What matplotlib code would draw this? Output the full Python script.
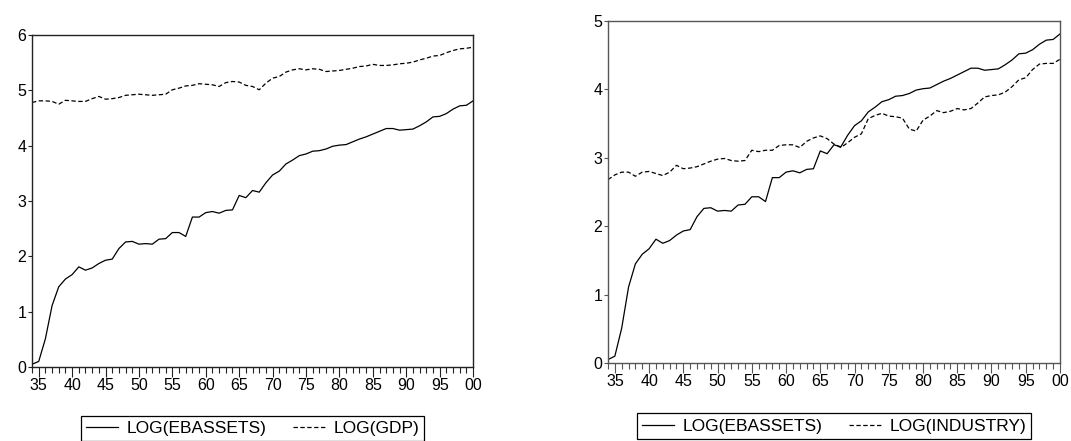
#!/usr/bin/env python3

import matplotlib
matplotlib.use("Agg")
import matplotlib.pyplot as plt
from matplotlib.ticker import FixedLocator

plt.rcParams["font.family"] = ["Liberation Sans", "DejaVu Sans"]

years = list(range(1934, 2001))

log_ebassets = [
    0.05, 0.10, 0.51, 1.11, 1.45, 1.59, 1.67, 1.81, 1.75, 1.79,
    1.87, 1.93, 1.95, 2.14, 2.26, 2.27, 2.22, 2.23, 2.22, 2.31,
    2.32, 2.43, 2.43, 2.36, 2.71, 2.71, 2.79, 2.81, 2.78, 2.83,
    2.84, 3.10, 3.06, 3.19, 3.16, 3.33, 3.47, 3.54, 3.67, 3.74,
    3.82, 3.85, 3.90, 3.91, 3.94, 3.99, 4.01, 4.02, 4.07, 4.12,
    4.16, 4.21, 4.26, 4.31, 4.31, 4.28, 4.29, 4.30, 4.36, 4.43,
    4.52, 4.53, 4.58, 4.66, 4.72, 4.73, 4.81,
]

log_gdp = [
    4.78, 4.81, 4.81, 4.80, 4.75, 4.82, 4.81, 4.80, 4.80, 4.85,
    4.89, 4.84, 4.85, 4.87, 4.91, 4.92, 4.93, 4.92, 4.91, 4.92,
    4.93, 5.01, 5.04, 5.08, 5.09, 5.12, 5.11, 5.10, 5.07, 5.14,
    5.16, 5.15, 5.09, 5.07, 5.01, 5.13, 5.22, 5.25, 5.33, 5.37,
    5.39, 5.37, 5.39, 5.38, 5.34, 5.35, 5.36, 5.38, 5.40, 5.43,
    5.44, 5.47, 5.45, 5.45, 5.46, 5.48, 5.49, 5.51, 5.55, 5.58,
    5.62, 5.63, 5.68, 5.72, 5.75, 5.76, 5.78,
]

log_industry = [
    2.68, 2.75, 2.79, 2.79, 2.73, 2.79, 2.80, 2.77, 2.74, 2.79,
    2.89, 2.84, 2.85, 2.87, 2.91, 2.95, 2.98, 2.99, 2.96, 2.95,
    2.96, 3.11, 3.09, 3.11, 3.11, 3.18, 3.19, 3.19, 3.15, 3.24,
    3.29, 3.32, 3.28, 3.20, 3.15, 3.22, 3.30, 3.35, 3.57, 3.62,
    3.65, 3.61, 3.60, 3.58, 3.42, 3.39, 3.55, 3.61, 3.69, 3.66,
    3.68, 3.72, 3.70, 3.72, 3.80, 3.89, 3.91, 3.92, 3.96, 4.04,
    4.14, 4.17, 4.29, 4.37, 4.38, 4.38, 4.44,
]

major_years = list(range(1935, 2001, 5))
major_labels = [f"{y % 100:02d}" for y in major_years]


def draw_panel(fig, rect, other, other_label, ymax, spine_color):
    ax = fig.add_axes(rect)
    ax.plot(years, log_ebassets, color="black", linewidth=0.9, label="LOG(EBASSETS)")
    ax.plot(years, other, color="black", linewidth=0.9, linestyle=(0, (3.5, 2)),
            label=other_label)
    ax.set_xlim(1934, 2000)
    ax.set_ylim(0, ymax)
    ax.set_yticks(range(0, ymax + 1))
    ax.set_xticks(major_years)
    ax.set_xticklabels(major_labels)
    ax.xaxis.set_minor_locator(FixedLocator(years))
    ax.tick_params(axis="x", which="major", direction="out", length=7, width=0.8,
                   color=spine_color, labelsize=11.5, pad=1)
    ax.tick_params(axis="x", which="minor", direction="out", length=4, width=0.8,
                   color=spine_color)
    ax.tick_params(axis="y", direction="out", length=3, width=0.8,
                   color=spine_color, labelsize=11.5, pad=1)
    for sp in ax.spines.values():
        sp.set_color(spine_color)
        sp.set_linewidth(1.0)
    leg = ax.legend(loc="upper center", bbox_to_anchor=(0.5, -0.147), ncol=2,
                    frameon=True, fancybox=False, edgecolor="black", framealpha=1,
                    fontsize=12.5, handlelength=1.85, columnspacing=1.5,
                    borderpad=0.3, handletextpad=0.5, borderaxespad=0)
    leg.get_frame().set_linewidth(0.9)
    return ax


fig = plt.figure(figsize=(10.71, 4.41), dpi=100)
draw_panel(fig, [0.0299, 0.1678, 0.4118, 0.7528], log_gdp, "LOG(GDP)", 6, "#222222")
draw_panel(fig, [0.5677, 0.1769, 0.4220, 0.7755], log_industry, "LOG(INDUSTRY)", 5, "#555555")

fig.savefig("out.png", dpi=100)
plt.close(fig)
